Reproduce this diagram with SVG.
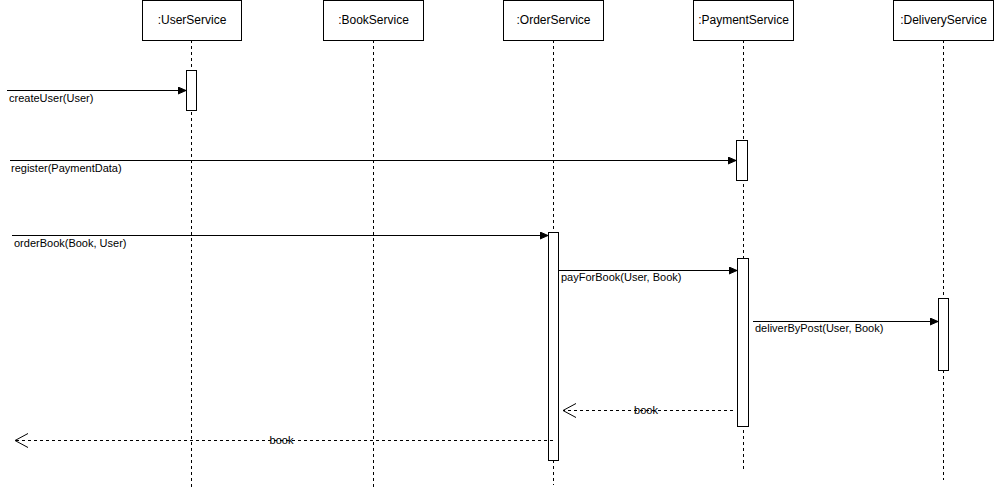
<svg xmlns="http://www.w3.org/2000/svg" width="995" height="494" viewBox="0 0 995 494">
<defs>
<style>
.box{fill:#fff;stroke:#000;stroke-width:1}
.life{stroke:#000;stroke-width:1;stroke-dasharray:3,3;fill:none}
.act{fill:#fff;stroke:#000;stroke-width:1}
.msg{stroke:#000;stroke-width:1;fill:none}
.ret{stroke:#000;stroke-width:1;stroke-dasharray:3,3;fill:none}
.head{font-family:"Liberation Sans",Arial,Helvetica,sans-serif;font-size:12px;fill:#000;text-anchor:middle}
.lbl{font-family:"Liberation Sans",Arial,Helvetica,sans-serif;font-size:11px;fill:#000}
.rlbl{font-family:"Liberation Sans",Arial,Helvetica,sans-serif;font-size:11px;fill:#000;text-anchor:middle}
</style>
<marker id="filled" markerWidth="9" markerHeight="8" refX="8.5" refY="4" orient="auto" markerUnits="userSpaceOnUse">
<path d="M0.5,0.5 L8.5,4 L0.5,7.5 Z" fill="#000" stroke="#000" stroke-width="1"/>
</marker>
<marker id="open" markerWidth="14" markerHeight="16" refX="13" refY="8" orient="auto" markerUnits="userSpaceOnUse">
<path d="M0,1 L13,8 L0,15" fill="none" stroke="#000" stroke-width="1"/>
</marker>
</defs>
<rect width="995" height="494" fill="#fff"/>

<g id="UserService">
<line class="life" x1="191.5" y1="40" x2="191.5" y2="490"/>
<rect class="box" x="142.5" y="0.5" width="99" height="40"/>
<text class="head" x="192" y="24">:UserService</text>
<rect class="act" x="186.5" y="70.5" width="10" height="40"/>
</g>

<g id="BookService">
<line class="life" x1="373.5" y1="40" x2="373.5" y2="490"/>
<rect class="box" x="323.5" y="0.5" width="100" height="40"/>
<text class="head" x="373.5" y="24">:BookService</text>
</g>

<g id="OrderService">
<line class="life" x1="553.5" y1="40" x2="553.5" y2="485"/>
<rect class="box" x="503.5" y="0.5" width="100" height="40"/>
<text class="head" x="553.5" y="24">:OrderService</text>
<rect class="act" x="548.5" y="232.5" width="10" height="228"/>
</g>

<g id="PaymentService">
<line class="life" x1="743.5" y1="40" x2="743.5" y2="469"/>
<rect class="box" x="693.5" y="0.5" width="100" height="40"/>
<text class="head" x="743.5" y="24">:PaymentService</text>
<rect class="act" x="736.5" y="140.5" width="11" height="40"/>
<rect class="act" x="737.5" y="258.5" width="11" height="168"/>
</g>

<g id="DeliveryService">
<line class="life" x1="943.5" y1="40" x2="943.5" y2="480"/>
<rect class="box" x="893.5" y="0.5" width="100" height="40"/>
<text class="head" x="943.5" y="24">:DeliveryService</text>
<rect class="act" x="938.5" y="298.5" width="10" height="72"/>
</g>

<g id="connectors">
<line class="msg" x1="7" y1="90.5" x2="186" y2="90.5" marker-end="url(#filled)"/>
<line class="msg" x1="10" y1="160.5" x2="736" y2="160.5" marker-end="url(#filled)"/>
<line class="msg" x1="12" y1="235.5" x2="548" y2="235.5" marker-end="url(#filled)"/>
<line class="msg" x1="559" y1="270.5" x2="737" y2="270.5" marker-end="url(#filled)"/>
<line class="msg" x1="753" y1="321.5" x2="938" y2="321.5" marker-end="url(#filled)"/>
<line class="ret" x1="733" y1="410.5" x2="563" y2="410.5" marker-end="url(#open)"/>
<line class="ret" x1="553" y1="440.5" x2="15" y2="440.5" marker-end="url(#open)"/>
<text class="lbl" x="9" y="102">createUser(User)</text>
<text class="lbl" x="11" y="172">register(PaymentData)</text>
<text class="lbl" x="14" y="247">orderBook(Book, User)</text>
<text class="lbl" x="561" y="281">payForBook(User, Book)</text>
<text class="lbl" x="755" y="332">deliverByPost(User, Book)</text>
<text class="rlbl" x="646" y="414">book</text>
<text class="rlbl" x="281.5" y="444">book</text>
</g>
</svg>
